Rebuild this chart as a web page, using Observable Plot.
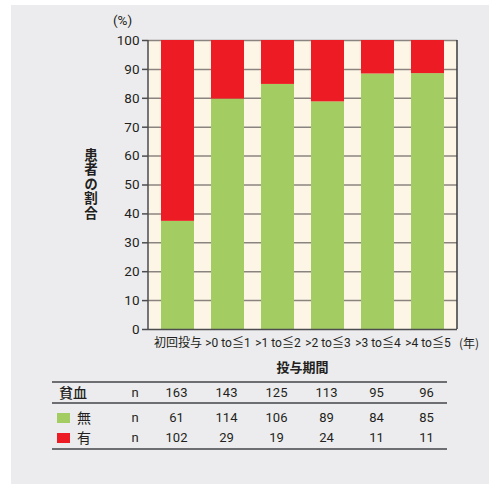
<!DOCTYPE html>
<html>
<head>
<meta charset="utf-8">
<script src="https://cdn.jsdelivr.net/npm/d3@7"></script>
<script src="https://cdn.jsdelivr.net/npm/@observablehq/plot@0.6"></script>
<style>
  html, body { margin: 0; padding: 0; background: #ffffff; }
  body { width: 489px; height: 484px; position: relative; overflow: hidden;
         font-family: Roboto, "Noto Sans CJK JP", sans-serif; color: #231f20; }
  #panel { position: absolute; left: 11px; top: 5px; width: 478px; height: 479px; background: #ececee; }
  #chart { position: absolute; left: 0; top: 0; }
  .abs { position: absolute; white-space: nowrap; line-height: 16px; }
  .cjk { font-family: "Noto Sans CJK JP", sans-serif; }
  .hline { position: absolute; height: 0; border-top: 2px solid #6d6e71; }
  .cell { position: absolute; width: 50px; text-align: center; font-size: 13px; line-height: 16px; }
</style>
</head>
<body>
<div id="panel"></div>
<div id="chart"></div>
<script>
// ---- data ----
const categories = ["初回投与", ">0 to≦1", ">1 to≦2", ">2 to≦3", ">3 to≦4", ">4 to≦5"];
const totalN   = [163, 143, 125, 113, 95, 96];
const noAnemia = [61, 114, 106, 89, 84, 85];   // 無
const anemia   = [102, 29, 19, 24, 11, 11];    // 有
const series = ["無", "有"];
const colors = ["#a3cd63", "#ed1c24"];
const yTicks = [0, 10, 20, 30, 40, 50, 60, 70, 80, 90, 100];

const rows = [];
categories.forEach((c, i) => {
  rows.push({cat: c, s: "無", v: noAnemia[i] / totalN[i] * 100});
  rows.push({cat: c, s: "有", v: anemia[i] / totalN[i] * 100});
});

const FONT = 'Roboto, "Noto Sans CJK JP", sans-serif';

const chart = Plot.plot({
  width: 489,
  height: 380,
  marginLeft: 148,
  marginRight: 32,
  marginTop: 40,
  marginBottom: 51,
  style: {background: "transparent", fontFamily: FONT, fontSize: "13px", color: "#231f20", overflow: "visible"},
  x: {domain: categories, paddingInner: 0.35, paddingOuter: 0.21},
  y: {domain: [0, 100]},
  color: {domain: series, range: colors},
  marks: [
    Plot.frame({fill: "#fdf6e6", stroke: null}),
    Plot.ruleY(yTicks.filter(d => d > 0), {stroke: "#8a8480", strokeWidth: 1.5}),
    Plot.barY(rows, Plot.stackY({order: null}, {x: "cat", y: "v", fill: "s"})),
    Plot.axisY({ticks: yTicks, tickSize: 6, tickPadding: 3, stroke: "#4d4d4f", strokeWidth: 1.5, label: null, fontSize: 13.5}),
    Plot.axisX({tickSize: 0, tickPadding: 9, label: null, fontSize: 12}),
    Plot.ruleY([0], {stroke: "#4d4d4f", strokeWidth: 1.5}),
  ]
});
document.getElementById("chart").appendChild(chart);

// frame lines left/right drawn with scales
const xs = chart.scale("x");
const ys = chart.scale("y");
const svg = d3.select(chart);
const x0 = xs.range[0], x1 = xs.range[1];
const yTop = ys.apply(100), yBot = ys.apply(0);
svg.append("line").attr("x1", x0).attr("x2", x0).attr("y1", yTop).attr("y2", yBot).attr("stroke", "#4d4d4f").attr("stroke-width", 1.5);
svg.append("line").attr("x1", x1).attr("x2", x1).attr("y1", yTop).attr("y2", yBot).attr("stroke", "#3a3a3c").attr("stroke-width", 1.5);

// annotations
const body = document.body;
function addText(txt, css, cls) {
  const d = document.createElement("div");
  d.className = "abs " + (cls || "");
  d.textContent = txt;
  Object.assign(d.style, css);
  body.appendChild(d);
  return d;
}
addText("(%)", {left: "113px", top: "12px", fontSize: "13.5px"});
addText("(年)", {left: (x1 + 2) + "px", top: "335px", fontSize: "12px", lineHeight: "16px"}, "cjk");
addText("投与期間", {left: ((x0 + x1) / 2 - 30) + "px", top: "359px", width: "60px", textAlign: "center", fontSize: "13px", fontWeight: "bold"}, "cjk");
addText("患者の割合", {left: "84px", top: "148px", fontSize: "13.5px", fontWeight: "bold", writingMode: "vertical-rl", textOrientation: "upright", lineHeight: "14px", letterSpacing: "1px"}, "cjk");

// table
const centers = categories.map(c => xs.apply(c) + xs.bandwidth / 2 - 1);
function hline(y) {
  const d = document.createElement("div");
  d.className = "hline";
  Object.assign(d.style, {left: "52px", width: "395px", top: y + "px"});
  body.appendChild(d);
}
hline(381); hline(402); hline(448);
function cell(txt, cx, cy) {
  const d = document.createElement("div");
  d.className = "cell";
  d.textContent = txt;
  d.style.left = (cx - 25) + "px";
  d.style.top = (cy - 8) + "px";
  body.appendChild(d);
}
const rowY = [393, 418, 438];
addText("貧血", {left: "59px", top: (rowY[0] - 9) + "px", fontSize: "14px", fontWeight: "500"}, "cjk");
addText(series[0], {left: "77px", top: (rowY[1] - 9) + "px", fontSize: "14px"}, "cjk");
addText(series[1], {left: "77px", top: (rowY[2] - 9) + "px", fontSize: "14px"}, "cjk");
[1, 2].forEach(r => {
  const sq = document.createElement("div");
  Object.assign(sq.style, {position: "absolute", left: "57px", top: (rowY[r] - 5) + "px", width: "13px", height: "10px", background: colors[r - 1]});
  body.appendChild(sq);
});
rowY.forEach(y => cell("n", 135, y));
categories.forEach((c, i) => {
  cell(String(totalN[i]), centers[i], rowY[0]);
  cell(String(noAnemia[i]), centers[i], rowY[1]);
  cell(String(anemia[i]), centers[i], rowY[2]);
});
</script>
</body>
</html>
